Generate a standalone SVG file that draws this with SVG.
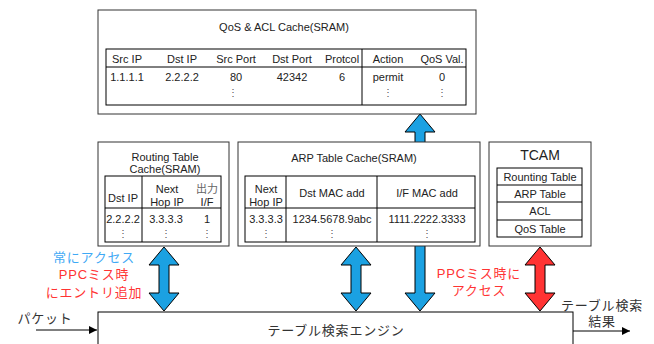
<svg xmlns="http://www.w3.org/2000/svg" width="654" height="344" viewBox="0 0 654 344">
<defs>
<style>
text{font-family:"Liberation Sans","Noto Sans CJK JP",sans-serif;fill:#222;dominant-baseline:central;text-anchor:middle}
.s{font-size:11px}
.j{font-size:13px;letter-spacing:0.8px;fill:#333}
.blue{fill:#3FA9F5}
.red{fill:#FF3333}
.box{fill:#fff;stroke:#333;stroke-width:1}
.tbl{fill:none;stroke:#000;stroke-width:1}
.ln{stroke:#000;stroke-width:1}
.ab{fill:#1BA1E2;stroke:#000;stroke-width:1}
.ar{fill:#FF3333;stroke:#000;stroke-width:1}
.dots{font-size:10px;fill:#555}
</style>
<marker id="ah" viewBox="0 0 10 10" refX="10" refY="5" markerWidth="8" markerHeight="8" markerUnits="userSpaceOnUse" orient="auto">
<path d="M0,0 L10,5 L0,10 Z" fill="#000"/>
</marker>
</defs>

<g id="connectors">
<path class="ab" d="M420,114 L435,132 L425,132 L425,293 L435,293 L420,311 L405,293 L415,293 L415,132 L405,132 Z"/>
<path class="ab" d="M164,247 L179,265 L169,265 L169,293 L179,293 L164,311 L149,293 L159,293 L159,265 L149,265 Z"/>
<path class="ab" d="M356,247 L371,265 L361,265 L361,293 L371,293 L356,311 L341,293 L351,293 L351,265 L341,265 Z"/>
<path class="ar" d="M540,247 L555,265 L545,265 L545,293 L555,293 L540,311 L525,293 L535,293 L535,265 L525,265 Z"/>
<line class="ln" x1="36" y1="330" x2="97" y2="330" marker-end="url(#ah)"/>
<line class="ln" x1="573" y1="331" x2="630" y2="331" marker-end="url(#ah)"/>
</g>

<g id="qos-acl-cache">
<rect class="box" x="98" y="10" width="378" height="104"/>
<text class="s" x="284" y="27">QoS &amp; ACL Cache(SRAM)</text>
<rect class="tbl" x="106" y="49" width="360" height="56"/>
<line class="ln" x1="106" y1="67" x2="466" y2="67"/>
<line class="ln" x1="362" y1="49" x2="362" y2="105"/>
<text class="s" x="127" y="59">Src IP</text>
<text class="s" x="182" y="59">Dst IP</text>
<text class="s" x="236" y="59">Src Port</text>
<text class="s" x="292" y="59">Dst Port</text>
<text class="s" x="342" y="59">Protcol</text>
<text class="s" x="388" y="59">Action</text>
<text class="s" x="442" y="59">QoS Val.</text>
<text class="s" x="127" y="77">1.1.1.1</text>
<text class="s" x="182" y="77">2.2.2.2</text>
<text class="s" x="236" y="77">80</text>
<text class="s" x="292" y="77">42342</text>
<text class="s" x="342" y="77">6</text>
<text class="s" x="388" y="77">permit</text>
<text class="s" x="442" y="77">0</text>
<text class="dots" x="233" y="92">⋮</text>
<text class="dots" x="388" y="92">⋮</text>
<text class="dots" x="442" y="92">⋮</text>
</g>

<g id="routing-table-cache">
<rect class="box" x="98" y="142" width="131" height="104"/>
<text class="s" x="165" y="157">Routing Table</text>
<text class="s" x="165" y="169">Cache(SRAM)</text>
<rect class="tbl" x="105" y="176" width="116" height="66"/>
<line class="ln" x1="105" y1="208" x2="221" y2="208"/>
<line class="ln" x1="142" y1="176" x2="142" y2="242"/>
<text class="s" x="123" y="198">Dst IP</text>
<text class="s" x="167" y="189">Next</text>
<text class="s" x="167" y="202">Hop IP</text>
<text class="s" x="207" y="189" style="fill:#666">出力</text>
<text class="s" x="207" y="202">I/F</text>
<text class="s" x="123" y="219">2.2.2.2</text>
<text class="s" x="166" y="219">3.3.3.3</text>
<text class="s" x="207" y="219">1</text>
<text class="dots" x="123" y="233">⋮</text>
<text class="dots" x="166" y="233">⋮</text>
<text class="dots" x="207" y="233">⋮</text>
</g>

<g id="arp-table-cache">
<rect class="box" x="238" y="142" width="242" height="104"/>
<text class="s" x="354" y="158">ARP Table Cache(SRAM)</text>
<rect class="tbl" x="245" y="176" width="230" height="66"/>
<line class="ln" x1="245" y1="208" x2="475" y2="208"/>
<line class="ln" x1="286" y1="176" x2="286" y2="242"/>
<line class="ln" x1="377" y1="176" x2="377" y2="242"/>
<text class="s" x="266" y="189">Next</text>
<text class="s" x="266" y="202">Hop IP</text>
<text class="s" x="332" y="193">Dst MAC add</text>
<text class="s" x="427" y="193">I/F MAC add</text>
<text class="s" x="266" y="219">3.3.3.3</text>
<text class="s" x="332" y="219">1234.5678.9abc</text>
<text class="s" x="427" y="219">1111.2222.3333</text>
<text class="dots" x="266" y="233">⋮</text>
<text class="dots" x="332" y="233">⋮</text>
<text class="dots" x="427" y="233">⋮</text>
</g>

<g id="tcam">
<rect class="box" x="489" y="142" width="102" height="104"/>
<text x="540" y="155" style="font-size:14px">TCAM</text>
<rect class="tbl" x="497" y="168" width="85" height="69"/>
<line class="ln" x1="497" y1="185" x2="582" y2="185"/>
<line class="ln" x1="497" y1="202" x2="582" y2="202"/>
<line class="ln" x1="497" y1="220" x2="582" y2="220"/>
<text class="s" x="540" y="176.5">Rounting Table</text>
<text class="s" x="540" y="193.5">ARP Table</text>
<text class="s" x="540" y="211">ACL</text>
<text class="s" x="540" y="228.5">QoS Table</text>
</g>

<g id="search-engine">
<rect class="box" x="98" y="312" width="475" height="40" style="stroke:#000"/>
<text class="j" x="336" y="330">テーブル検索エンジン</text>
</g>

<g id="labels">
<text class="j blue" x="94" y="257">常にアクセス</text>
<text class="j red" x="94" y="274">PPCミス時</text>
<text class="j red" x="94" y="292">にエントリ追加</text>
<text class="j red" x="479" y="273">PPCミス時に</text>
<text class="j red" x="479" y="290">アクセス</text>
<text class="j" x="45" y="318">パケット</text>
<text class="j" x="602" y="305">テーブル検索</text>
<text class="j" x="602" y="321">結果</text>
</g>
</svg>
